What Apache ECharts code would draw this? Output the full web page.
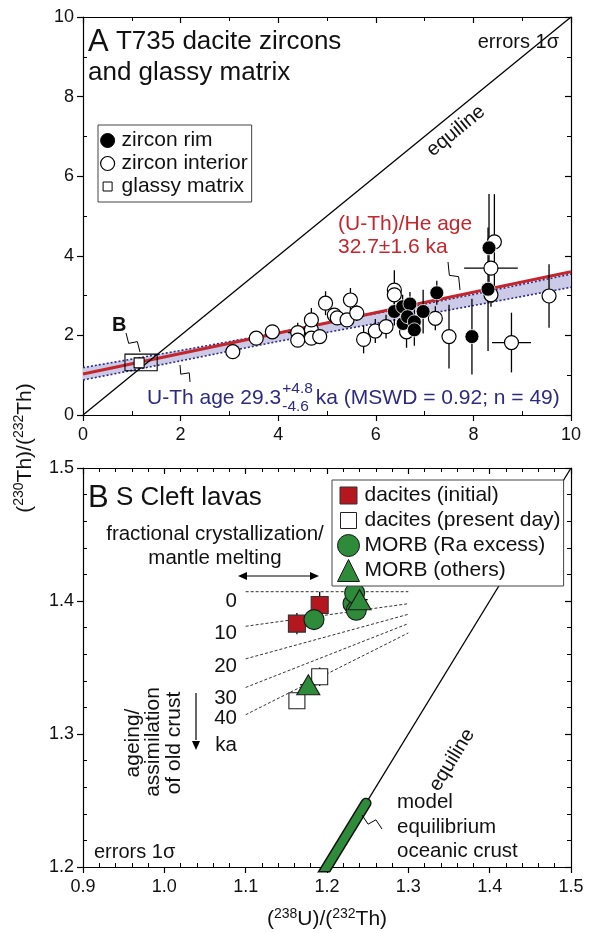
<!DOCTYPE html>
<html><head><meta charset="utf-8">
<script src="https://cdn.jsdelivr.net/npm/echarts@6/dist/echarts.min.js"></script>
<style>html,body{margin:0;padding:0;background:#fff}#c{width:595px;height:933px}</style>
</head><body><div id="c"></div>
<script>
// ---------- Panel A data ----------
const xTicksA = [0, 2, 4, 6, 8, 10];
const yTicksA = [0, 2, 4, 6, 8, 10];
const rimX    = [6.38, 6.55, 6.70, 6.56, 6.65, 6.79, 6.79, 6.97, 7.25, 7.97, 8.32, 8.30];
const rimY    = [2.60, 2.72, 2.79, 2.30, 2.47, 2.34, 2.14, 2.60, 3.07, 1.97, 4.20, 3.16];
const rimErrX = [0, 0, 0, 0, 0, 0, 0, 0, 0, 0, 0, 0];
const rimErrY = [0.35, 0.30, 0.30, 0.30, 0.30, 0.35, 0.40, 0.55, 0.30, 0.95, 1.35, 1.55];
const intX    = [3.07, 3.55, 3.88, 4.40, 4.40, 4.68, 4.68, 4.85, 4.68, 4.97, 5.15, 5.21, 5.41, 5.48, 5.61, 5.75, 5.99, 6.21, 6.38, 6.38, 6.63, 7.22, 7.50, 8.43, 8.36, 8.36, 8.78, 9.55];
const intY    = [1.59, 1.93, 2.09, 2.07, 1.88, 2.14, 1.93, 1.97, 2.39, 2.81, 2.51, 2.44, 2.39, 2.89, 2.56, 1.90, 2.11, 2.22, 3.14, 3.02, 2.09, 2.43, 1.97, 4.35, 3.69, 3.02, 1.82, 2.99];
const intErrX = [0, 0, 0, 0.20, 0, 0, 0, 0, 0, 0, 0, 0, 0, 0, 0, 0, 0, 0, 0, 0, 0, 0, 0, 0, 0.55, 0, 0.40, 0];
const intErrY = [0, 0, 0, 0.25, 0, 0, 0, 0, 0.30, 0.30, 0, 0, 0, 0.30, 0.20, 0.35, 0.30, 0.30, 0.50, 0, 0.40, 0.30, 0.80, 1.20, 0, 0.30, 0.75, 0.80];
const glassX = [1.15], glassY = [1.31];
const glassBoxX = [0.86, 1.52], glassBoxY = [1.11, 1.53];
const equilineA = [0, 10];
const heLineX = [0, 10], heLineY = [1.03, 3.60];
const bandX     = [0, 2, 4, 6, 8, 10];
const bandUpper = [1.19, 1.62, 2.07, 2.55, 3.03, 3.54];
const bandLower = [0.88, 1.36, 1.85, 2.30, 2.75, 3.21];

// ---------- Panel B data ----------
const xTicksB = [0.9, 1.0, 1.1, 1.2, 1.3, 1.4, 1.5];
const yTicksB = [1.2, 1.3, 1.4, 1.5];
const iniX = [1.163, 1.191], iniY = [1.383, 1.397], iniErrY = [0.008, 0.010];
const presX = [1.163, 1.191], presY = [1.325, 1.343], presErrY = [0.006, 0.007];
const raX = [1.184, 1.232, 1.236, 1.234], raY = [1.386, 1.398, 1.393, 1.406];
const othX = [1.177, 1.240], othY = [1.337, 1.401], othErrX = [0.010, 0.010];
const isoLabels = ['0', '10', '20', '30', '40'];
const isoX = [1.1, 1.3];
const isoLeftY  = [1.407, 1.381, 1.3565, 1.335, 1.3145];
const isoRightY = [1.407, 1.398, 1.390, 1.383, 1.376];
const equilineB = [0.9, 1.5];
const rodB = [1.19, 1.248];

const FF = '"Liberation Sans", Arial, sans-serif';
const RED = '#b5171e', GREEN = '#2e8b3a', NAVY = '#2e2a80', HERED = '#c4262d';

const chart = echarts.init(document.getElementById('c'), null, {renderer: 'canvas'});

function axisSet(grid, ticks, isX, fmt, minorSplit) {
  const min = ticks[0], max = ticks[ticks.length - 1], interval = +(ticks[1] - ticks[0]).toFixed(6);
  const base = {type: 'value', gridIndex: grid, min, max, interval, splitLine: {show: false}};
  const pos = isX ? ['bottom', 'top'] : ['left', 'right'];
  const main = Object.assign({}, base, {
    position: pos[0],
    axisLine: {onZero: false, lineStyle: {color: '#000', width: 1.2}},
    axisTick: {inside: false, length: 6, lineStyle: {color: '#000', width: 1.2}},
    axisLabel: {fontSize: 18, color: '#111', fontFamily: FF, margin: isX ? 11 : 9, formatter: fmt},
    minorTick: {show: false}
  });
  const minor = Object.assign({}, base, {
    position: pos[0],
    axisLine: {show: false, onZero: false},
    axisTick: {show: false, inside: true},
    axisLabel: {show: false},
    minorTick: {show: true, splitNumber: minorSplit, length: 4, lineStyle: {color: '#000', width: 1}}
  });
  const mirror = Object.assign({}, base, {
    position: pos[1],
    axisLine: {onZero: false, lineStyle: {color: '#000', width: 1.2}},
    axisTick: {inside: true, length: 6, lineStyle: {color: '#000', width: 1.2}},
    axisLabel: {show: false},
    minorTick: {show: true, splitNumber: minorSplit, length: 4, lineStyle: {color: '#000', width: 1}}
  });
  return [main, minor, mirror];
}

const fmtA = v => String(Math.round(v));
const fmtB = v => v.toFixed(1);
const xAxes = axisSet(0, xTicksA, true, fmtA, 2).concat(axisSet(1, xTicksB, true, fmtB, 5));
const yAxes = axisSet(0, yTicksA, false, fmtA, 2).concat(axisSet(1, yTicksB, false, fmtB, 5));
xAxes[3].name = '({s|238}U)/({s|232}Th)';
xAxes[3].nameLocation = 'middle';
xAxes[3].nameGap = 40;
xAxes[3].nameTextStyle = {fontSize: 21, color: '#111', fontFamily: FF, lineHeight: 25,
  rich: {s: {fontSize: 14, fontFamily: FF, color: '#111', verticalAlign: 'top', lineHeight: 15}}};

function errData(xs, ys, exs, eys) {
  const out = [];
  xs.forEach((x, i) => { if ((exs[i] || 0) > 0 || (eys[i] || 0) > 0) out.push([x, ys[i], exs[i] || 0, eys[i] || 0]); });
  return out;
}
function errRender(params, api) {
  const x = api.value(0), y = api.value(1), ex = api.value(2), ey = api.value(3);
  const ch = [];
  const st = {stroke: '#000', lineWidth: 1.3};
  if (ey > 0) { const a = api.coord([x, y - ey]), b = api.coord([x, y + ey]); ch.push({type: 'line', shape: {x1: a[0], y1: a[1], x2: b[0], y2: b[1]}, style: st}); }
  if (ex > 0) { const a = api.coord([x - ex, y]), b = api.coord([x + ex, y]); ch.push({type: 'line', shape: {x1: a[0], y1: a[1], x2: b[0], y2: b[1]}, style: st}); }
  return {type: 'group', children: ch};
}
const zip = (a, b) => a.map((v, i) => [v, b[i]]);

const series = [];
// Panel A
series.push({type: 'custom', name: 'band', xAxisIndex: 0, yAxisIndex: 0, clip: true, silent: true, z: 1,
  data: [[bandX[0], bandLower[0]]],
  renderItem: (p, api) => {
    const pts = bandX.map((x, i) => api.coord([x, bandUpper[i]]));
    for (let i = bandX.length - 1; i >= 0; i--) pts.push(api.coord([bandX[i], bandLower[i]]));
    return {type: 'polygon', shape: {points: pts}, style: {fill: '#cbcbe8'}};
  }});
series.push({type: 'line', name: 'band upper', xAxisIndex: 0, yAxisIndex: 0, data: zip(bandX, bandUpper), symbol: 'none', silent: true, z: 2,
  lineStyle: {color: NAVY, width: 1.6, type: [2, 2]}});
series.push({type: 'line', name: 'band lower', xAxisIndex: 0, yAxisIndex: 0, data: zip(bandX, bandLower), symbol: 'none', silent: true, z: 2,
  lineStyle: {color: NAVY, width: 1.6, type: [2, 2]}});
series.push({type: 'line', name: 'He isochron', xAxisIndex: 0, yAxisIndex: 0, data: zip(heLineX, heLineY), symbol: 'none', silent: true, z: 3,
  lineStyle: {color: HERED, width: 3}});
series.push({type: 'line', name: 'equiline A', xAxisIndex: 0, yAxisIndex: 0, data: zip(equilineA, equilineA), symbol: 'none', silent: true, z: 3,
  lineStyle: {color: '#000', width: 1.3}});
series.push({type: 'custom', name: 'glass box', xAxisIndex: 0, yAxisIndex: 0, z: 4, silent: true,
  data: [[glassBoxX[0], glassBoxY[0], glassBoxX[1], glassBoxY[1]]],
  renderItem: (p, api) => {
    const a = api.coord([api.value(0), api.value(3)]), b = api.coord([api.value(2), api.value(1)]);
    return {type: 'rect', shape: {x: a[0], y: a[1], width: b[0] - a[0], height: b[1] - a[1]}, style: {fill: 'none', stroke: '#000', lineWidth: 1.1}};
  }});
series.push({type: 'custom', name: 'errA', xAxisIndex: 0, yAxisIndex: 0, z: 4, silent: true, clip: true,
  data: errData(intX, intY, intErrX, intErrY).concat(errData(rimX, rimY, rimErrX, rimErrY)), renderItem: errRender});
series.push({type: 'scatter', name: 'zircon interior', xAxisIndex: 0, yAxisIndex: 0, z: 5, data: zip(intX, intY),
  symbol: 'circle', symbolSize: 14, itemStyle: {color: '#fff', borderColor: '#000', borderWidth: 1.2, opacity: 1}});
series.push({type: 'scatter', name: 'zircon rim', xAxisIndex: 0, yAxisIndex: 0, z: 6, data: zip(rimX, rimY),
  symbol: 'circle', symbolSize: 14, itemStyle: {color: '#000', borderColor: '#fff', borderWidth: 0.8, opacity: 1}});
series.push({type: 'scatter', name: 'glassy matrix', xAxisIndex: 0, yAxisIndex: 0, z: 6, data: zip(glassX, glassY),
  symbol: 'rect', symbolSize: 10, itemStyle: {color: '#fff', borderColor: '#000', borderWidth: 1.1, opacity: 1}});

// Panel B
isoLeftY.forEach((ly, i) => {
  series.push({type: 'line', name: 'isochron ' + isoLabels[i] + ' ka', xAxisIndex: 3, yAxisIndex: 3, symbol: 'none', silent: true, z: 2,
    data: [[isoX[0], ly], [isoX[1], isoRightY[i]]], lineStyle: {color: '#333', width: 1, type: [3, 2]}});
});
series.push({type: 'line', name: 'equiline B', xAxisIndex: 3, yAxisIndex: 3, symbol: 'none', silent: true, z: 2,
  data: zip(equilineB, equilineB), lineStyle: {color: '#000', width: 1.3}});
series.push({type: 'line', name: 'rod outline', xAxisIndex: 3, yAxisIndex: 3, symbol: 'none', silent: true, z: 3,
  data: zip(rodB, rodB), lineStyle: {color: '#111', width: 11, cap: 'round'}});
series.push({type: 'line', name: 'model equilibrium oceanic crust', xAxisIndex: 3, yAxisIndex: 3, symbol: 'none', silent: true, z: 4,
  data: zip(rodB, rodB), lineStyle: {color: GREEN, width: 8, cap: 'round'}});
series.push({type: 'custom', name: 'errB', xAxisIndex: 3, yAxisIndex: 3, z: 4, silent: true, clip: true,
  data: errData(iniX, iniY, [0, 0], iniErrY).concat(errData(presX, presY, [0, 0], presErrY)).concat(errData(othX, othY, othErrX, [0, 0])),
  renderItem: errRender});
series.push({type: 'scatter', name: 'dacites (present day)', xAxisIndex: 3, yAxisIndex: 3, z: 5, data: zip(presX, presY),
  symbol: 'rect', symbolSize: 16, itemStyle: {color: '#fff', borderColor: '#222', borderWidth: 1.1, opacity: 1}});
series.push({type: 'scatter', name: 'dacites (initial)', xAxisIndex: 3, yAxisIndex: 3, z: 5, data: zip(iniX, iniY),
  symbol: 'rect', symbolSize: 17, itemStyle: {color: RED, borderColor: '#333', borderWidth: 1.1, opacity: 1}});
series.push({type: 'scatter', name: 'MORB (Ra excess)', xAxisIndex: 3, yAxisIndex: 3, z: 6, data: zip(raX, raY),
  symbol: 'circle', symbolSize: 20, itemStyle: {color: GREEN, borderColor: '#1a1a1a', borderWidth: 1.1, opacity: 1}});
series.push({type: 'scatter', name: 'MORB (others)', xAxisIndex: 3, yAxisIndex: 3, z: 7, data: zip(othX, othY),
  symbol: 'triangle', symbolSize: [23, 20], itemStyle: {color: GREEN, borderColor: '#1a1a1a', borderWidth: 1.1, opacity: 1}});

// ---------- annotations ----------
const cv = document.createElement('canvas').getContext('2d');
function tw(s, size) { cv.font = size + 'px "Liberation Sans"'; return cv.measureText(s).width; }
function T(x, y, text, size, st, el) {
  return Object.assign({type: 'text', x, y, silent: true, z: 50,
    style: Object.assign({text, fill: '#111', font: size + 'px ' + FF, align: 'left', verticalAlign: 'middle'}, st || {})}, el || {});
}
function squiggle(x0, y0, x1, y1) {
  const dx = x1 - x0, dy = y1 - y0, L = Math.hypot(dx, dy), nx = -dy / L * 4, ny = dx / L * 4;
  const p = t => [x0 + dx * t, y0 + dy * t];
  const a = p(0.42), b = p(0.58);
  return {type: 'polyline', silent: true, z: 50, shape: {points: [[x0, y0], [a[0] + nx, a[1] + ny], [b[0] - nx, b[1] - ny], [x1, y1]]},
    style: {stroke: '#000', lineWidth: 1, fill: null}};
}
function arrowHead(x, y, ang) {
  const l = 9, w = 4;
  const bx = x - Math.cos(ang) * l, by = y - Math.sin(ang) * l;
  const nx = -Math.sin(ang) * w, ny = Math.cos(ang) * w;
  return {type: 'polygon', silent: true, z: 50, shape: {points: [[x, y], [bx + nx, by + ny], [bx - nx, by - ny]]}, style: {fill: '#000'}};
}

const uthW = tw('U-Th age 29.3', 21);
const supW = tw('+4.8', 15.5);
const graphics = [
  T(88, 42, '{a|A} T735 dacite zircons', 26, {rich: {a: {fontSize: 31, fontFamily: FF, fill: '#111'}}}),
  T(88, 73, 'and glassy matrix', 26),
  T(559, 42, 'errors 1σ', 20, {align: 'right'}),
  T(456, 131, 'equiline', 20, {align: 'center'}, {rotation: Math.atan(398 / 488)}),
  T(338, 224, '(U-Th)/He age', 21, {fill: HERED}),
  T(338, 247, '32.7±1.6 ka', 21, {fill: HERED}),
  T(147, 398, 'U-Th age 29.3', 21, {fill: NAVY}),
  T(147 + uthW + 1, 389, '+4.8', 15.5, {fill: NAVY}),
  T(147 + uthW + 1, 407, '-4.6', 15.5, {fill: NAVY}),
  T(147 + uthW + supW + 4, 398, 'ka (MSWD = 0.92; n = 49)', 21, {fill: NAVY}),
  T(112, 325, 'B', 20, {font: 'bold 20px ' + FF}),
  squiggle(126, 333, 140, 352),
  squiggle(180, 365, 190, 382),
  squiggle(448, 262, 460, 290),
  // panel B
  T(88, 498, '{a|B} S Cleft lavas', 26, {rich: {a: {fontSize: 31, fontFamily: FF, fill: '#111'}}}),
  T(215, 534, 'fractional crystallization/', 20.5, {align: 'center'}),
  T(215, 558, 'mantle melting', 20.5, {align: 'center'}),
  {type: 'line', silent: true, z: 50, shape: {x1: 246, y1: 576, x2: 311, y2: 576}, style: {stroke: '#000', lineWidth: 1.2}},
  arrowHead(238, 576, Math.PI), arrowHead(319, 576, 0),
  T(237, 601, isoLabels[0], 20.5, {align: 'right'}),
  T(237, 633, isoLabels[1], 20.5, {align: 'right'}),
  T(237, 666, isoLabels[2], 20.5, {align: 'right'}),
  T(237, 698, isoLabels[3], 20.5, {align: 'right'}),
  T(237, 718, isoLabels[4], 20.5, {align: 'right'}),
  T(237, 745, 'ka', 20.5, {align: 'right'}),
  T(133, 743, 'ageing/', 21, {align: 'center'}, {rotation: Math.PI / 2}),
  T(153, 742, 'assimilation', 21, {align: 'center'}, {rotation: Math.PI / 2}),
  T(174, 743, 'of old crust', 21, {align: 'center'}, {rotation: Math.PI / 2}),
  {type: 'line', silent: true, z: 50, shape: {x1: 196, y1: 693, x2: 196, y2: 740}, style: {stroke: '#000', lineWidth: 1.2}},
  arrowHead(196, 750, Math.PI / 2),
  T(452, 760, 'equiline', 20, {align: 'center'}, {rotation: Math.atan(1330 / 813.3)}),
  T(397, 802, 'model', 20.5),
  T(397, 827, 'equilibrium', 20.5),
  T(397, 851, 'oceanic crust', 20.5),
  squiggle(362, 815, 382, 829),
  T(94, 852, 'errors 1σ', 20),
  T(25, 448, '({s|230}Th)/({s|232}Th)', 21, {align: 'center', lineHeight: 25,
    rich: {s: {fontSize: 14, fontFamily: FF, fill: '#111', verticalAlign: 'top', lineHeight: 15}}}, {rotation: Math.PI / 2})
];

const sqIcon = (n, s) => { const a = (n - s) / 2, b = a + s; return `path://M0,0M${n},${n}M${a},${a}L${b},${a}L${b},${b}L${a},${b}Z`; };

chart.setOption({
  animation: false,
  textStyle: {fontFamily: FF},
  grid: [
    {left: 83, top: 17, width: 488, height: 398},
    {left: 83, top: 468, width: 488, height: 399}
  ],
  xAxis: xAxes,
  yAxis: yAxes,
  legend: [
    {orient: 'vertical', left: 98, top: 125, selectedMode: false, itemWidth: 18, itemHeight: 14, itemGap: 2,
      padding: [5, 4, 5, 2], borderColor: '#444', borderWidth: 1, backgroundColor: '#fff', z: 40,
      textStyle: {fontSize: 21, color: '#111', fontFamily: FF},
      data: [
        {name: 'zircon rim', icon: 'circle', itemStyle: {color: '#000', borderColor: '#000', borderWidth: 1}},
        {name: 'zircon interior', icon: 'circle', itemStyle: {color: '#fff', borderColor: '#000', borderWidth: 1.2}},
        {name: 'glassy matrix', icon: sqIcon(14, 9), itemStyle: {color: '#fff', borderColor: '#000', borderWidth: 1}}
      ]},
    {orient: 'vertical', left: 332, top: 480, selectedMode: false, itemWidth: 22, itemHeight: 22, itemGap: 2,
      padding: [4, 3, 4, 5], borderColor: '#444', borderWidth: 1, backgroundColor: '#fff', z: 40,
      textStyle: {fontSize: 21, color: '#111', fontFamily: FF},
      data: [
        {name: 'dacites (initial)', icon: sqIcon(22, 17), itemStyle: {color: RED, borderColor: '#333', borderWidth: 1}},
        {name: 'dacites (present day)', icon: sqIcon(22, 16), itemStyle: {color: '#fff', borderColor: '#222', borderWidth: 1}},
        {name: 'MORB (Ra excess)', icon: 'circle', itemStyle: {color: GREEN, borderColor: '#1a1a1a', borderWidth: 1}},
        {name: 'MORB (others)', icon: 'triangle', itemStyle: {color: GREEN, borderColor: '#1a1a1a', borderWidth: 1}}
      ]}
  ],
  series,
  graphic: graphics
});
</script>
</body></html>
